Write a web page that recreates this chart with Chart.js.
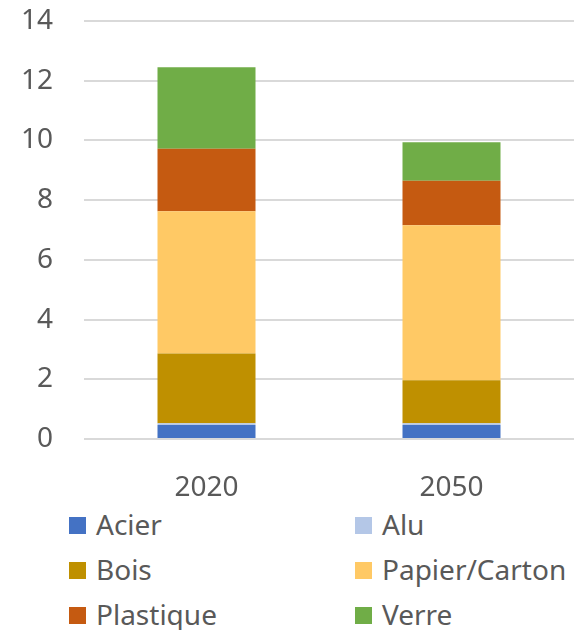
<!DOCTYPE html>
<html lang="fr">

<head>
    <meta charset="UTF-8">
    <title>Déchets par matériau</title>
    <style>
        body {
            margin: 0;
            background: #fff;
            font-family: "Noto Sans", sans-serif;
        }

        .wrap {
            position: relative;
            width: 574px;
            height: 630px;
        }

        #chart {
            position: absolute;
            left: 0;
            top: 0;
        }

        .legend {
            position: absolute;
            left: 69px;
            top: 501px;
            display: grid;
            grid-template-columns: 286px 210px;
            grid-auto-rows: 45px;
            color: #595959;
            font-size: 28px;
        }

        .legend div {
            display: flex;
            align-items: center;
            white-space: nowrap;
        }

        .legend span {
            display: inline-block;
            flex-shrink: 0;
            width: 17px;
            height: 17px;
            margin-right: 10px;
            margin-top: 4px;
        }
    </style>
</head>

<body>
    <div class="wrap">
        <canvas id="chart" width="574" height="500"></canvas>
        <div class="legend" id="legend"></div>
    </div>

    <script src="https://cdn.jsdelivr.net/npm/chart.js@4.4.4/dist/chart.umd.min.js"></script>
    <script>
        // Categories and series
        const years = ['2020', '2050'];
        const acier = [0.47, 0.47];
        const alu = [0.06, 0.06];
        const bois = [2.33, 1.44];
        const papierCarton = [4.77, 5.19];
        const plastique = [2.09, 1.49];
        const verre = [2.73, 1.29];
        const yTicks = [0, 2, 4, 6, 8, 10, 12, 14];

        const series = [
            { label: 'Acier', data: acier, color: '#4472C4' },
            { label: 'Alu', data: alu, color: '#B4C7E7' },
            { label: 'Bois', data: bois, color: '#BF9000' },
            { label: 'Papier/Carton', data: papierCarton, color: '#FFC965' },
            { label: 'Plastique', data: plastique, color: '#C55A11' },
            { label: 'Verre', data: verre, color: '#70AD47' }
        ];

        const ctx = document.getElementById('chart').getContext('2d');
        const chart = new Chart(ctx, {
            type: 'bar',
            data: {
                labels: years,
                datasets: series.map(s => ({
                    label: s.label,
                    data: s.data,
                    backgroundColor: s.color,
                    borderWidth: 0,
                    categoryPercentage: 1,
                    barPercentage: 0.4
                }))
            },
            options: {
                responsive: false,
                animation: false,
                layout: {
                    padding: { top: 21, right: 0, bottom: 0, left: 0 }
                },
                plugins: {
                    legend: { display: false },
                    tooltip: { enabled: false }
                },
                scales: {
                    x: {
                        stacked: true,
                        grid: { display: false },
                        border: { display: false },
                        ticks: {
                            color: '#595959',
                            font: { family: 'Noto Sans', size: 28 },
                            padding: 24
                        },
                        afterFit: (scale) => {
                            scale.height = 61;
                            scale.paddingLeft = 0;
                            scale.paddingRight = 0;
                        }
                    },
                    y: {
                        stacked: true,
                        min: 0,
                        max: 14,
                        afterBuildTicks: (scale) => {
                            scale.ticks = yTicks.map(v => ({ value: v }));
                        },
                        grid: {
                            color: '#D9D9D9',
                            lineWidth: 2,
                            drawTicks: false
                        },
                        border: { display: false },
                        ticks: {
                            color: '#595959',
                            font: { family: 'Noto Sans', size: 28 },
                            padding: 31
                        },
                        afterFit: (scale) => {
                            scale.width = 84;
                            scale.paddingTop = 0;
                            scale.paddingBottom = 0;
                        }
                    }
                }
            }
        });

        // two-column legend below the chart
        const legend = document.getElementById('legend');
        chart.data.datasets.forEach(ds => {
            const item = document.createElement('div');
            const box = document.createElement('span');
            box.style.background = ds.backgroundColor;
            item.appendChild(box);
            item.appendChild(document.createTextNode(ds.label));
            legend.appendChild(item);
        });
    </script>
</body>

</html>
